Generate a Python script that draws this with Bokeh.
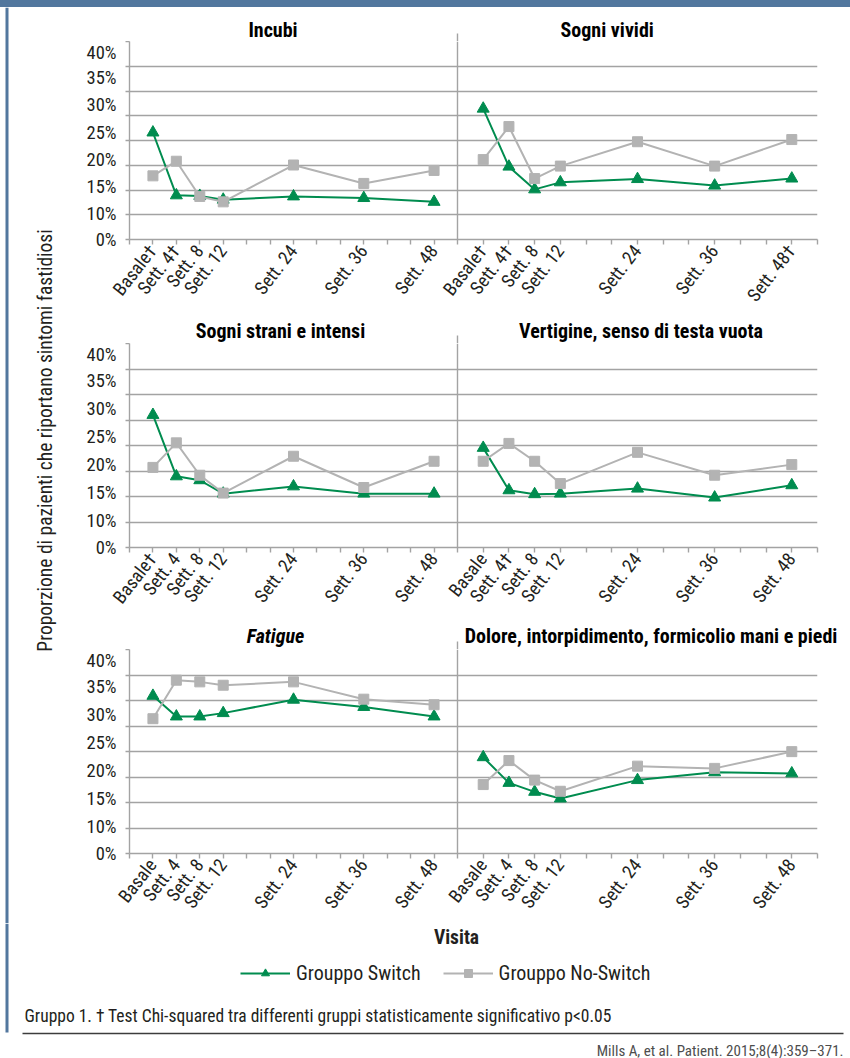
import numpy as np
from bokeh.plotting import figure
from bokeh.layouts import column, row
from bokeh.models import (Range1d, FixedTicker, Label, BoxAnnotation, Legend, LegendItem,
                          GlobalInlineStyleSheet)
from bokeh.embed import file_html
from bokeh.resources import INLINE

# ---------------- data ----------------
weeks = [0, 4, 8, 12, 24, 36, 48]
visits = ["Basale", "Sett. 4", "Sett. 8", "Sett. 12", "Sett. 24", "Sett. 36", "Sett. 48"]
y_labels = ["0%", "10%", "15%", "20%", "25%", "30%", "35%", "40%"]
y_label_values = [5.25, 10, 15, 20, 25, 30, 35, 40]   # "0%" sits on the axis break

titles = ["Incubi", "Sogni vividi", "Sogni strani e intensi",
          "Vertigine, senso di testa vuota", "Fatigue",
          "Dolore, intorpidimento, formicolio mani e piedi"]
significant = [["Basale", "Sett. 4"], ["Basale", "Sett. 4", "Sett. 48"], ["Basale"],
               ["Sett. 4"], [], []]

switch_incubi = [25.0, 13.4, 13.3, 12.6, 13.2, 12.9, 12.2]
noswitch_incubi = [17.0, 19.7, 13.2, 12.2, 19.0, 15.6, 18.0]
switch_vividi = [29.4, 18.7, 14.5, 15.8, 16.4, 15.2, 16.5]
noswitch_vividi = [20.0, 26.1, 16.5, 18.8, 23.3, 18.8, 23.7]
switch_strani = [29.0, 18.0, 17.3, 14.9, 16.2, 14.9, 14.9]
noswitch_strani = [19.6, 24.0, 18.2, 15.0, 21.6, 16.0, 20.7]
switch_vertigine = [23.1, 15.5, 14.8, 14.9, 15.8, 14.2, 16.4]
noswitch_vertigine = [20.7, 23.9, 20.7, 16.7, 22.3, 18.2, 20.1]
switch_fatigue = [33.5, 29.8, 29.8, 30.4, 32.8, 31.5, 29.8]
noswitch_fatigue = [29.4, 36.3, 36.0, 35.4, 36.0, 32.9, 31.9]
switch_dolore = [22.5, 17.9, 16.3, 15.1, 18.4, 19.8, 19.6]
noswitch_dolore = [17.6, 21.9, 18.4, 16.4, 20.9, 20.5, 23.5]

series_names = ["Grouppo Switch", "Grouppo No-Switch"]
x_title = "Visita"
y_title = "Proporzione di pazienti che riportano sintomi fastidiosi"
footnote = "Gruppo 1. \u2020 Test Chi-squared tra differenti gruppi statisticamente significativo p<0.05"
source_note = "Mills A, et al. Patient. 2015;8(4):359\u2013371."

# ---------------- style / layout ----------------
FONT = "Roboto Condensed, DejaVu Sans Condensed, Liberation Sans, sans-serif"
GREEN = "#008c4f"
GRAY = "#b3b3b3"
GRID = "#a3a3a3"
BLUE = "#52779e"
TXT = "#231f20"
Y0, Y1 = 5.25, 41.8
FRAME_H = 204              # pixel height from 0% line to 40% line
FL, S, FR = 129, 457, 817  # frame left, panel split, frame right (window px)
KL = (S - FL) / 56.0
KR = (FR - S) / 56.0
x_ticks = list(range(-4, 53, 4))
grid_vals = [float(v) for v in np.linspace(Y0, Y1, 9)]
BOTTOM_B = 70

# vertical layout (window px): top of each panel row block and its 40% line
row_block_tops = [7, 315, 617]
row_40_lines = [41, 343, 649]
title_cx = [272.5, 606.7, 280.0, 640.5, 275.0, 650.5]   # title centres (px)
title_cy = [29.5, 330.0, 635.0]

data = [(switch_incubi, noswitch_incubi), (switch_vividi, noswitch_vividi),
        (switch_strani, noswitch_strani), (switch_vertigine, noswitch_vertigine),
        (switch_fatigue, noswitch_fatigue), (switch_dolore, noswitch_dolore)]


def right_to_main(w):
    return -4 + (S - FL + (w + 4) * KR) / KL


def bare(width, height, xr, yr):
    f = figure(width=width, height=height, x_range=xr, y_range=yr,
               output_backend="svg", toolbar_location=None, title=None,
               x_axis_location=None, y_axis_location=None,
               min_border_left=0, min_border_right=0, min_border_top=0, min_border_bottom=0)
    f.grid.visible = False
    f.outline_line_color = None
    return f


def make_title_fig(r):
    top, bottom = row_block_tops[r], row_40_lines[r]
    f = bare(850 - 60, bottom - top, Range1d(60, 850), Range1d(bottom, top))
    f.add_layout(BoxAnnotation(left=S - 0.7, right=S + 0.7, top=bottom - 8, bottom=bottom,
                               fill_color=GRID, fill_alpha=1, line_alpha=0))
    for idx in (2 * r, 2 * r + 1):
        f.add_layout(Label(x=title_cx[idx], y=title_cy[r], text=titles[idx],
                           text_align="center", text_baseline="middle",
                           text_font=FONT, text_font_size="20px",
                           text_font_style="bold italic" if titles[idx] == "Fatigue" else "bold",
                           text_color="black"))
    return f


def make_row(r):
    li, ri = 2 * r, 2 * r + 1
    p = figure(width=850 - 60, height=FRAME_H + BOTTOM_B,
               x_range=Range1d(-4, -4 + (FR - FL) / KL), y_range=Range1d(Y0, Y1),
               output_backend="svg", toolbar_location=None, title=None,
               min_border_left=FL - 60, min_border_right=850 - FR,
               min_border_top=0, min_border_bottom=BOTTOM_B)
    p.extra_x_ranges = {"right": Range1d(-4 - (S - FL) / KR, 52)}
    p.outline_line_color = None
    p.xgrid.visible = False
    p.ygrid.ticker = FixedTicker(ticks=grid_vals)
    p.ygrid.grid_line_color = GRID
    p.ygrid.grid_line_width = 1.4

    # x axis: ticks every 4 weeks for both panels
    ticks = list(x_ticks)
    overrides = {t: "" for t in x_ticks}
    for w in x_ticks[1:]:
        m = right_to_main(w)
        ticks.append(m)
        overrides[m] = ""
    for w, v in zip(weeks, visits):
        overrides[w] = v + ("\u2020" if v in significant[li] else "")
        overrides[right_to_main(w)] = v + ("\u2020" if v in significant[ri] else "")
    xa = p.xaxis[0]
    xa.ticker = FixedTicker(ticks=ticks)
    xa.major_label_overrides = overrides
    xa.major_label_orientation = 0.91
    xa.major_label_text_font = FONT
    xa.major_label_text_font_size = "18.5px"
    xa.major_label_text_color = TXT
    xa.major_label_standoff = 3
    xa.major_tick_out = 5
    xa.major_tick_in = 0
    xa.minor_tick_out = 0
    xa.axis_line_color = GRID
    xa.axis_line_width = 1.4
    xa.major_tick_line_color = GRID
    xa.major_tick_line_width = 1.4

    ya = p.yaxis[0]
    ya.axis_line_color = GRID
    ya.axis_line_width = 1.4
    ya.ticker = FixedTicker(ticks=y_label_values, minor_ticks=grid_vals)
    ya.major_label_overrides = dict(zip(y_label_values, y_labels))
    ya.major_tick_out = 0
    ya.major_tick_in = 0
    ya.minor_tick_out = 4
    ya.minor_tick_in = 0
    ya.minor_tick_line_color = GRID
    ya.minor_tick_line_width = 1.4
    ya.major_label_standoff = 9
    ya.major_label_text_font = FONT
    ya.major_label_text_font_size = "18.5px"
    ya.major_label_text_color = TXT

    # separator between the two panels (the right panel's y axis)
    p.add_layout(BoxAnnotation(left=-4 - 0.7 / KR, right=-4 + 0.7 / KR,
                               x_range_name="right",
                               fill_color=GRID, fill_alpha=1, line_alpha=0))

    for idx, rng in ((li, "default"), (ri, "right")):
        sw, nsw = data[idx]
        p.line(weeks, sw, line_color=GREEN, line_width=2, x_range_name=rng)
        p.scatter(weeks, sw, marker="triangle", size=12, fill_color=GREEN,
                  line_color=GREEN, x_range_name=rng)
        p.line(weeks, nsw, line_color=GRAY, line_width=2, x_range_name=rng)
        p.scatter(weeks, nsw, marker="square", size=10, fill_color=GRAY,
                  line_color=GRAY, x_range_name=rng)
    return p


blocks = []
heights = 0
for r in range(3):
    tf = make_title_fig(r)
    rf = make_row(r)
    heights += tf.height + rf.height
    # wrap each figure on its own so that the layout does not align their frames
    blocks.append(row(tf))
    blocks.append(row(rf))
total_rows_h = heights
strip_bottom = 7 + total_rows_h

band = bare(850, 7, Range1d(0, 850), Range1d(0, 7))
band.background_fill_color = BLUE
band.border_fill_color = BLUE
band.styles = {"background-color": BLUE}

strip = bare(60, total_rows_h, Range1d(0, 60), Range1d(strip_bottom, 7))
strip.add_layout(BoxAnnotation(left=5, right=8, fill_color=BLUE, fill_alpha=1, line_alpha=0))
strip.add_layout(Label(x=45, y=440, text=y_title, angle=np.pi / 2, text_align="center",
                       text_baseline="middle", text_font=FONT, text_font_size="19.5px",
                       text_color=TXT))

bot_h = 1058 - strip_bottom
bot = bare(850, bot_h, Range1d(0, 850), Range1d(1058, strip_bottom))
bot.add_layout(BoxAnnotation(left=5, right=8, top=strip_bottom, bottom=1032,
                             fill_color=BLUE, fill_alpha=1, line_alpha=0))
bot.add_layout(Label(x=456, y=937, text=x_title, text_align="center", text_baseline="middle",
                     text_font=FONT, text_font_size="19.5px", text_font_style="bold",
                     text_color=TXT))
# legend-only renderers (their single point lies outside the visible range)
r1 = bot.line(x=[-100], y=[-100], line_color=GREEN, line_width=2)
r2 = bot.scatter(x=[-100], y=[-100], marker="triangle", size=9, fill_color=GREEN, line_color=GREEN)
r3 = bot.line(x=[-100], y=[-100], line_color=GRAY, line_width=2)
r4 = bot.scatter(x=[-100], y=[-100], marker="square", size=8, fill_color=GRAY, line_color=GRAY)
legend = Legend(items=[LegendItem(label=series_names[0], renderers=[r1, r2]),
                       LegendItem(label=series_names[1], renderers=[r3, r4])],
                orientation="horizontal", location=(240, 1058 - 975 - 10),
                glyph_width=50, glyph_height=20, label_standoff=6, spacing=22,
                padding=0, margin=0, border_line_alpha=0, background_fill_alpha=0,
                label_text_font=FONT, label_text_font_size="20px", label_text_color=TXT)
bot.add_layout(legend)
bot.add_layout(Label(x=24, y=1015, text=footnote, text_align="left", text_baseline="middle",
                     text_font=FONT, text_font_size="17.5px", text_color=TXT))
bot.add_layout(BoxAnnotation(left=22, right=843, top=1032.3, bottom=1033.8,
                             fill_color="#3c3c3c", fill_alpha=1, line_alpha=0))
bot.add_layout(Label(x=843, y=1050, text=source_note, text_align="right", text_baseline="middle",
                     text_font=FONT, text_font_size="15px", text_color="#4d4d4d"))

root = column(band, row(strip, column(*blocks)), bot,
              stylesheets=[GlobalInlineStyleSheet(css="body { margin: 0 !important; }")])

open("out.html", "w").write(file_html(root, INLINE))
